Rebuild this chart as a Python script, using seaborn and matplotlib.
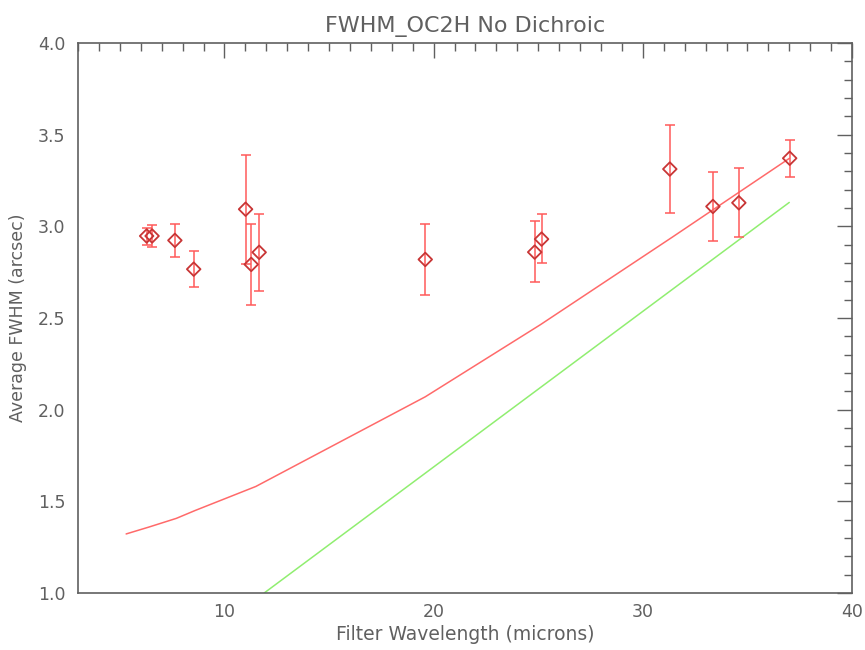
import numpy as np
import pandas as pd
import matplotlib
matplotlib.use('Agg')
import matplotlib.pyplot as plt
import seaborn as sns
from matplotlib.ticker import MultipleLocator

sns.set_style('white')
plt.rcParams['font.family'] = ['DejaVu Sans']

# Measured FWHM per filter
wavelength = [6.28, 6.54, 7.63, 8.53, 11.01, 11.28, 11.66, 19.6, 24.83, 25.16,
              31.29, 33.35, 34.59, 37.02]
fwhm = [2.947, 2.947, 2.923, 2.766, 3.093, 2.792, 2.858, 2.819, 2.859, 2.930,
        3.312, 3.108, 3.128, 3.371]
err_hi = [2.99, 3.007, 3.015, 2.863, 3.389, 3.011, 3.066, 3.013, 3.026, 3.066,
          3.553, 3.294, 3.316, 3.470]
err_lo = [2.90, 2.887, 2.832, 2.667, 2.796, 2.573, 2.649, 2.624, 2.697, 2.797,
          3.075, 2.922, 2.941, 3.270]

# Model curves
model_wl = [5.3, 6.4, 7.7, 8.6, 11.5, 19.6, 25.1, 31.4, 37.0]
model_fwhm = [1.322, 1.36, 1.407, 1.45, 1.581, 2.07, 2.463, 2.94, 3.37]
diff_wl = [11.9, 37.0]
diff_fwhm = [1.0, 3.13]

df = pd.DataFrame({'wl': wavelength, 'fwhm': fwhm})
df['lo'] = df['fwhm'] - np.array(err_lo)
df['hi'] = np.array(err_hi) - df['fwhm']

gray = '#606060'
fig = plt.figure(figsize=(8.65, 6.5), dpi=100)
ax = fig.add_axes([0.0902, 0.0877, 0.8948, 0.8463])

sns.lineplot(x=model_wl, y=model_fwhm, ax=ax, color='#ff6a6a', lw=1.1, sort=False)
sns.lineplot(x=diff_wl, y=diff_fwhm, ax=ax, color='#90ee70', lw=1.1, sort=False)

ax.errorbar(df['wl'], df['fwhm'], yerr=[df['lo'], df['hi']], fmt='none',
            ecolor='#ff5a5a', elinewidth=1.1, capsize=3.5, capthick=1.1)
sns.scatterplot(data=df, x='wl', y='fwhm', ax=ax, marker='D', s=48,
                facecolor='none', edgecolor='#c83535', linewidth=1.3, zorder=5)

ax.set_xlim(3, 40)
ax.set_ylim(1.0, 4.0)
ax.xaxis.set_major_locator(MultipleLocator(10))
ax.xaxis.set_minor_locator(MultipleLocator(1))
ax.yaxis.set_major_locator(MultipleLocator(0.5))
ax.yaxis.set_minor_locator(MultipleLocator(0.1))
ax.yaxis.set_major_formatter(matplotlib.ticker.FormatStrFormatter('%.1f'))

ax.tick_params(which='both', direction='in', top=True, right=True, colors=gray,
               labelcolor=gray, labelsize=12.5, width=1)
ax.tick_params(which='major', length=11, pad=9)
ax.tick_params(axis='x', which='major', pad=7)
ax.tick_params(which='minor', length=6)
for s in ax.spines.values():
    s.set_color(gray)
    s.set_linewidth(1.2)

ax.set_xlabel('Filter Wavelength (microns)', fontsize=13.5, color=gray, labelpad=3)
ax.set_ylabel('Average FWHM (arcsec)', fontsize=12.5, color=gray, labelpad=8)
ax.set_title('FWHM_OC2H No Dichroic', fontsize=16, color=gray, pad=8)

fig.savefig('out.png', dpi=100)
